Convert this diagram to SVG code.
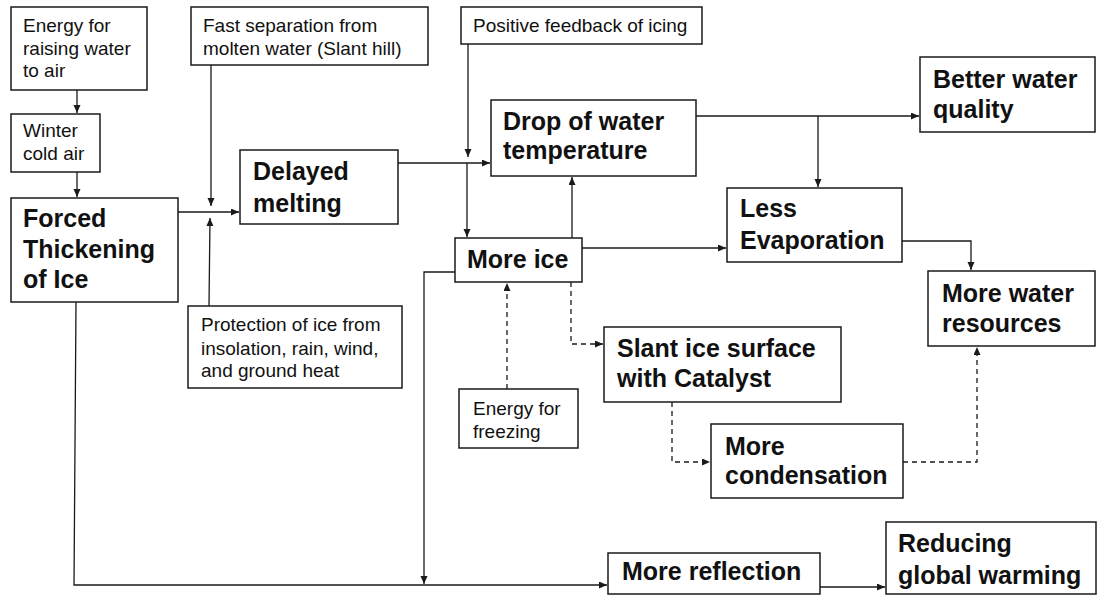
<svg xmlns="http://www.w3.org/2000/svg" width="1098" height="596" viewBox="0 0 1098 596">
<style>
.box{fill:#fff;stroke:#1a1a1a;stroke-width:1.5}
.s{font-family:"Liberation Sans",Arial,sans-serif;font-size:19px;fill:#111}
.b{font-family:"Liberation Sans",Arial,sans-serif;font-size:25px;font-weight:bold;fill:#111}
.c{fill:none;stroke:#1a1a1a;stroke-width:1.3}
.d{fill:none;stroke:#1a1a1a;stroke-width:1.3;stroke-dasharray:5 4}
</style>
<defs>
<marker id="ah" markerWidth="9" markerHeight="8" refX="8" refY="3.5" orient="auto" markerUnits="userSpaceOnUse">
<path d="M0,0 L8,3.5 L0,7 z" fill="#1a1a1a"/>
</marker>
</defs>
<rect width="1098" height="596" fill="#fff"/>
<g id="connectors">
<path class="c" d="M77,90 V113" marker-end="url(#ah)"/>
<path class="c" d="M77,172 V197" marker-end="url(#ah)"/>
<path class="c" d="M178,212 H239" marker-end="url(#ah)"/>
<path class="c" d="M211,65 V206" marker-end="url(#ah)"/>
<path class="c" d="M209,306 L210,218" marker-end="url(#ah)"/>
<path class="c" d="M398,163 H490" marker-end="url(#ah)"/>
<path class="c" d="M468,44 V157" marker-end="url(#ah)"/>
<path class="c" d="M467,163 V237" marker-end="url(#ah)"/>
<path class="c" d="M572,238 V177" marker-end="url(#ah)"/>
<path class="c" d="M582,248 H726" marker-end="url(#ah)"/>
<path class="c" d="M455,272 H424 V584" marker-end="url(#ah)"/>
<path class="c" d="M76,302 L74,585 H607" marker-end="url(#ah)"/>
<path class="c" d="M696,116 H919" marker-end="url(#ah)"/>
<path class="c" d="M818,116 V187" marker-end="url(#ah)"/>
<path class="c" d="M902,241 H971 V270" marker-end="url(#ah)"/>
<path class="c" d="M820,587 H885" marker-end="url(#ah)"/>
<path class="d" d="M507,389 V283" marker-end="url(#ah)"/>
<path class="d" d="M571,282 V344 H603" marker-end="url(#ah)"/>
<path class="d" d="M672,402 V462 H710" marker-end="url(#ah)"/>
<path class="d" d="M903,462 H977 V347" marker-end="url(#ah)"/>
</g>
<g id="n-energy-raise"><rect class="box" x="11" y="7" width="136" height="83"/>
<text class="s" x="23" y="32">Energy for</text><text class="s" x="23" y="55">raising water</text><text class="s" x="23" y="77">to air</text></g>
<g id="n-winter"><rect class="box" x="11" y="114" width="89" height="58"/>
<text class="s" x="23" y="137">Winter</text><text class="s" x="23" y="160">cold air</text></g>
<g id="n-forced"><rect class="box" x="11" y="198" width="167" height="104"/>
<text class="b" x="23" y="227">Forced</text><text class="b" x="23" y="258">Thickening</text><text class="b" x="23" y="288">of Ice</text></g>
<g id="n-fast"><rect class="box" x="191" y="7" width="237" height="58"/>
<text class="s" x="203" y="32">Fast separation from</text><text class="s" x="203" y="55">molten water (Slant hill)</text></g>
<g id="n-delayed"><rect class="box" x="240" y="150" width="158" height="74"/>
<text class="b" x="253" y="180">Delayed</text><text class="b" x="253" y="212">melting</text></g>
<g id="n-protection"><rect class="box" x="188" y="306" width="214" height="82"/>
<text class="s" x="201" y="331">Protection of ice from</text><text class="s" x="201" y="355">insolation, rain, wind,</text><text class="s" x="201" y="377">and ground heat</text></g>
<g id="n-positive"><rect class="box" x="461" y="7" width="241" height="37"/>
<text class="s" x="473" y="32">Positive feedback of icing</text></g>
<g id="n-drop"><rect class="box" x="491" y="100" width="205" height="76"/>
<text class="b" x="503" y="130">Drop of water</text><text class="b" x="503" y="159">temperature</text></g>
<g id="n-moreice"><rect class="box" x="455" y="238" width="127" height="44"/>
<text class="b" x="467" y="268">More ice</text></g>
<g id="n-freezing"><rect class="box" x="459" y="389" width="119" height="59"/>
<text class="s" x="473" y="415">Energy for</text><text class="s" x="473" y="438">freezing</text></g>
<g id="n-slant"><rect class="box" x="604" y="327" width="237" height="75"/>
<text class="b" x="617" y="357">Slant ice surface</text><text class="b" x="617" y="387">with Catalyst</text></g>
<g id="n-condensation"><rect class="box" x="711" y="424" width="192" height="74"/>
<text class="b" x="725" y="455">More</text><text class="b" x="725" y="484">condensation</text></g>
<g id="n-better"><rect class="box" x="920" y="57" width="175" height="75"/>
<text class="b" x="933" y="88">Better water</text><text class="b" x="933" y="118">quality</text></g>
<g id="n-lessevap"><rect class="box" x="727" y="188" width="175" height="74"/>
<text class="b" x="740" y="217">Less</text><text class="b" x="740" y="249">Evaporation</text></g>
<g id="n-waterres"><rect class="box" x="928" y="271" width="167" height="75"/>
<text class="b" x="942" y="302">More water</text><text class="b" x="942" y="332">resources</text></g>
<g id="n-reflection"><rect class="box" x="608" y="553" width="212" height="41"/>
<text class="b" x="622" y="580">More reflection</text></g>
<g id="n-reducing"><rect class="box" x="886" y="522" width="210" height="72"/>
<text class="b" x="898" y="552">Reducing</text><text class="b" x="898" y="584">global warming</text></g>
</svg>
